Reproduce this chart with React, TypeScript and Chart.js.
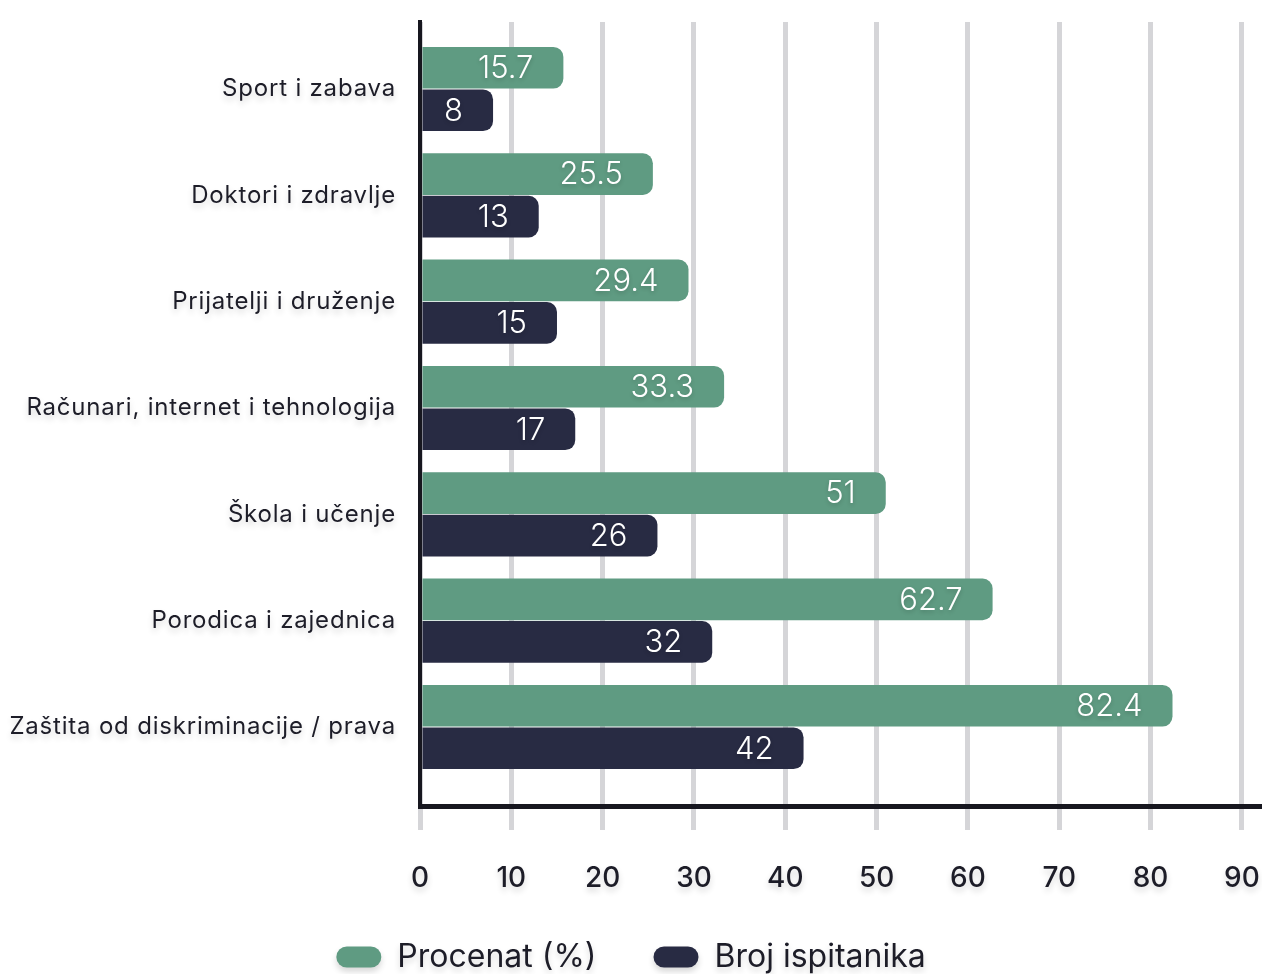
import React, { useEffect, useRef } from 'react';
import { Chart, registerables } from 'chart.js';

Chart.register(...registerables);

const categories = [
  'Sport i zabava',
  'Doktori i zdravlje',
  'Prijatelji i druženje',
  'Računari, internet i tehnologija',
  'Škola i učenje',
  'Porodica i zajednica',
  'Zaštita od diskriminacije / prava',
];
const percentValues = [15.7, 25.5, 29.4, 33.3, 51, 62.7, 82.4];
const countValues = [8, 13, 15, 17, 26, 32, 42];
const xTickValues = [0, 10, 20, 30, 40, 50, 60, 70, 80, 90];
const seriesNames = ['Procenat (%)', 'Broj ispitanika'];
const seriesColors = ['#5f9b82', '#282b43'];

const FONT = 'Inter, "Open Sans", sans-serif';
const TEXT_DARK = '#1d1d28';

function withShadow(ctx: any, spacing: string, fn: () => void) {
  ctx.save();
  ctx.shadowColor = 'rgba(0,0,0,0.16)';
  ctx.shadowBlur = 6;
  ctx.shadowOffsetX = 0;
  ctx.shadowOffsetY = 4;
  if ('letterSpacing' in ctx) ctx.letterSpacing = spacing;
  fn();
  ctx.restore();
}

const textShadowPlugin = {
  id: 'textShadow',
  beforeDraw(chart: any) {
    Object.values(chart.scales).forEach((scale: any) => {
      if (scale.__shadowPatched) return;
      const orig = scale.drawLabels;
      const spacing = scale.axis === 'y' ? '0.8px' : '0px';
      scale._computeLabelArea = () => undefined;
      scale.drawLabels = function (area: any) {
        withShadow(this.ctx, spacing, () => orig.call(this, area));
      };
      scale.__shadowPatched = true;
    });
    const legend = chart.legend;
    if (legend && !legend.__shadowPatched) {
      const origDraw = legend.draw;
      legend.draw = function (...args: any[]) {
        withShadow(this.ctx, '0px', () => origDraw.apply(this, args));
      };
      legend.__shadowPatched = true;
    }
  },
};

const valueLabelsPlugin = {
  id: 'valueLabels',
  afterDatasetsDraw(chart: any) {
    const ctx: CanvasRenderingContext2D = chart.ctx;
    ctx.save();
    ctx.font = `300 31px ${FONT}`;
    ctx.fillStyle = '#ffffff';
    ctx.textAlign = 'right';
    ctx.textBaseline = 'middle';
    ctx.shadowColor = 'rgba(0,0,0,0.18)';
    ctx.shadowBlur = 4;
    ctx.shadowOffsetY = 2;
    chart.data.datasets.forEach((ds: any, di: number) => {
      const meta = chart.getDatasetMeta(di);
      meta.data.forEach((bar: any, i: number) => {
        const v = ds.data[i].x;
        ctx.fillText(String(v), bar.x - 30, bar.y + 1);
      });
    });
    ctx.restore();
  },
};

export default function App() {
  const ref = useRef<HTMLCanvasElement>(null);

  useEffect(() => {
    document.body.style.margin = '0';
    document.body.style.overflow = 'hidden';
    const canvas = ref.current;
    if (!canvas) return;

    const datasets = [percentValues, countValues].map((vals, si) => ({
      label: seriesNames[si],
      data: vals.map((v, i) => ({ x: v, y: i })),
      backgroundColor: seriesColors[si],
      borderRadius: 10,
      borderSkipped: 'start' as const,
      categoryPercentage: 0.8,
      barPercentage: 0.98,
    }));

    const chart = new Chart(canvas, {
      type: 'bar',
      data: { datasets },
      options: {
        indexAxis: 'y',
        responsive: true,
        maintainAspectRatio: false,
        animation: false,
        layout: { padding: { top: 22, left: 0, right: 0, bottom: 0 } },
        scales: {
          x: {
            type: 'linear',
            min: 0,
            max: 92.2,
            offset: false,
            afterBuildTicks(scale: any) {
              scale.ticks = xTickValues.map((v) => ({ value: v }));
            },
            afterFit(scale: any) {
              scale.height = 78;
              scale.paddingLeft = 0;
              scale.paddingRight = 0;
              scale.paddingTop = 0;
              scale.paddingBottom = 0;
            },
            grid: {
              color: '#d5d5d8',
              lineWidth: 5,
              tickLength: 24,
              drawTicks: true,
              offset: false,
            },
            border: { display: true, color: '#17171f', width: 5 },
            ticks: {
              color: TEXT_DARK,
              padding: 32,
              font: { family: FONT, size: 28, weight: 500 },
            },
          },
          y: {
            type: 'linear',
            reverse: true,
            min: -0.63,
            max: 6.743,
            offset: false,
            afterBuildTicks(scale: any) {
              scale.ticks = categories.map((_, i) => ({ value: i }));
            },
            afterFit(scale: any) {
              scale.width = 420;
              scale.paddingLeft = 0;
              scale.paddingRight = 0;
              scale.paddingTop = 0;
              scale.paddingBottom = 0;
            },
            grid: { display: false, drawTicks: false, offset: false },
            border: { display: true, color: '#17171f', width: 4 },
            ticks: {
              autoSkip: false,
              color: TEXT_DARK,
              padding: 24,
              font: { family: FONT, size: 24, weight: 400 },
              callback: (v: any) => categories[v as number] ?? '',
            },
          },
        },
        plugins: {
          legend: {
            position: 'bottom',
            labels: {
              color: TEXT_DARK,
              font: { family: FONT, size: 32, weight: 400 },
              boxWidth: 45,
              boxHeight: 21,
              useBorderRadius: true,
              borderRadius: 10.5,
              padding: 57,
            },
          },
          tooltip: { enabled: false },
        },
      },
      plugins: [textShadowPlugin, valueLabelsPlugin],
    });

    return () => chart.destroy();
  }, []);

  return (
    <div style={{ width: 1262, height: 983, position: 'relative' }}>
      <canvas ref={ref} />
    </div>
  );
}
